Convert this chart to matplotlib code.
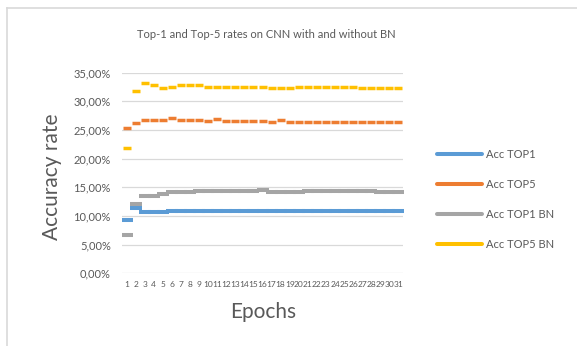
import matplotlib
matplotlib.use("Agg")
import matplotlib.pyplot as plt
from matplotlib.lines import Line2D
from matplotlib.ticker import FuncFormatter, FixedLocator

plt.rcParams['font.family'] = ['Lato', 'DejaVu Sans']

epochs = list(range(1, 32))

acc_top1 = [9.3, 11.4, 10.6, 10.6, 10.6] + [10.8] * 26
acc_top5 = ([25.3, 26.25, 26.8, 26.8, 26.8, 27.05, 26.8, 26.8, 26.8, 26.6, 26.85]
            + [26.6] * 5 + [26.4, 26.65] + [26.4] * 13)
acc_top1_bn = ([6.6, 12.1, 13.5, 13.5, 13.9, 14.1, 14.1, 14.1]
               + [14.3] * 7 + [14.55] + [14.1] * 4 + [14.4] * 8 + [14.15] * 3)
acc_top5_bn = ([21.9, 31.8, 33.1, 32.75, 32.3, 32.55, 32.75, 32.75, 32.75]
               + [32.55] * 7 + [32.3] * 3 + [32.55] * 7 + [32.3] * 5)

series_names = ["Acc TOP1", "Acc TOP5", "Acc TOP1 BN", "Acc TOP5 BN"]
colors = ["#5B9BD5", "#ED7D31", "#A5A5A5", "#FFC000"]
y_ticks = [0, 5, 10, 15, 20, 25, 30, 35]

text_col = "#595959"
grid_col = "#D9D9D9"

fig = plt.figure(figsize=(5.77, 3.46), dpi=100)
W, H = 577, 346
ax = fig.add_axes([122 / W, 1 - 273.3 / H, (403 - 122) / W, (273.3 - 72.5) / H])

# wide dash markers for the top-1 series, shorter ones for the top-5 series
styles = [
    dict(ms=8.6, mew=2.9),
    dict(ms=5.3, mew=2.5),
    dict(ms=8.6, mew=2.9),
    dict(ms=5.3, mew=2.5),
]
for vals, col, st in zip([acc_top1, acc_top5, acc_top1_bn, acc_top5_bn], colors, styles):
    ax.plot(epochs, [v / 100 for v in vals], linestyle="none", marker="_",
            color=col, markersize=st["ms"], markeredgewidth=st["mew"], zorder=3)

ax.set_xlim(0.5, 31.5)
ax.set_ylim(0, 0.35)
ax.yaxis.set_major_locator(FixedLocator([t / 100 for t in y_ticks]))
ax.yaxis.set_major_formatter(FuncFormatter(lambda v, p: f"{v * 100:.2f}%".replace(".", ",")))
ax.set_xticks(epochs)
ax.set_xticklabels([str(e) for e in epochs])
ax.tick_params(axis="x", length=0, pad=5.5, labelsize=6, colors=text_col)
ax.tick_params(axis="y", length=0, pad=8, labelsize=8, colors=text_col)
for s in ax.spines.values():
    s.set_visible(False)
ax.grid(axis="y", color=grid_col, linewidth=0.9)
ax.set_axisbelow(True)

# axis titles
fig.text(52 / W, 1 - 177 / H, "Accuracy rate", rotation=90, ha="center", va="center",
         fontsize=15, color=text_col)
fig.text(263 / W, 1 - 312 / H, "Epochs", ha="center", va="center",
         fontsize=15, color=text_col)

fig.text(266 / W, 1 - 34 / H, "Top-1 and Top-5 rates on CNN with and without BN",
         ha="center", va="center", fontsize=8, color=text_col)

handles = [Line2D([0], [0], color=c, linewidth=2.9, solid_capstyle="round") for c in colors]
fig.legend(handles, series_names, loc="center left", bbox_to_anchor=(437 / W, 1 - 199.7 / H),
           frameon=False, fontsize=8, handlelength=4.05, handletextpad=0.36,
           labelspacing=1.72, borderpad=0, borderaxespad=0, labelcolor=text_col)

# chart frame
fig.add_artist(Line2D([7 / W, 1], [1 - 8 / H, 1 - 8 / H], color=grid_col, linewidth=1.2,
                      transform=fig.transFigure))
fig.add_artist(Line2D([7 / W, 7 / W], [0, 1 - 8 / H], color=grid_col, linewidth=1.2,
                      transform=fig.transFigure))

fig.savefig("out.png", dpi=100)
